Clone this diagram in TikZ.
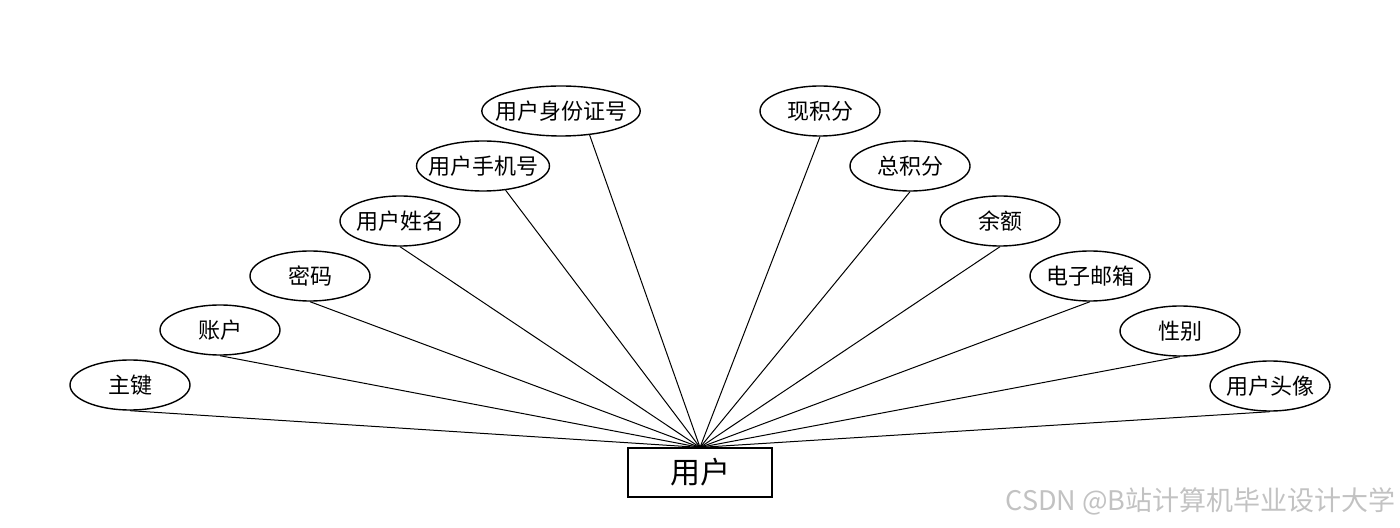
\documentclass[tikz,border=0pt]{standalone}
\usepackage{fontspec}
\setmainfont{Noto Sans CJK SC}
\usetikzlibrary{shapes.geometric}
\tikzset{
  attr/.style={ellipse,draw=black,line width=0.7pt,minimum width=60pt,minimum height=25pt,
    inner sep=0pt,inner xsep=-1.5pt,font=\fontsize{11pt}{13pt}\selectfont},
  ent/.style={rectangle,draw=black,line width=0.6pt,minimum width=72pt,minimum height=24.5pt,
    inner sep=0pt,font=\fontsize{15pt}{17pt}\selectfont},
  link/.style={line width=0.5pt},
  wmark/.style={text=black!24,inner sep=0pt,font=\fontsize{13.5pt}{15pt}\selectfont},
}

\begin{document}
\begin{tikzpicture}[x=0.5pt,y=-0.5pt]
  \useasboundingbox (0,0) rectangle (1400,528);
  % entity
  \node[ent] (user) at (700,472.5) {用户};
  % left attributes
  \node[attr] (pk) at (130,385) {主键};
  \node[attr] (acct) at (220,330) {账户};
  \node[attr] (pwd) at (310,276) {密码};
  \node[attr] (uname) at (400,221) {用户姓名};
  \node[attr,inner xsep=-4pt] (uphone) at (483,166) {用户手机号};
  \node[attr,inner xsep=-5pt] (uid) at (561,111) {用户身份证号};
  % right attributes
  \node[attr] (curpts) at (820,111) {现积分};
  \node[attr] (totpts) at (910,166) {总积分};
  \node[attr] (bal) at (1000,221) {余额};
  \node[attr] (email) at (1090,276) {电子邮箱};
  \node[attr] (sex) at (1180,331) {性别};
  \node[attr] (avatar) at (1270,386) {用户头像};
  % connectors
  \foreach \a in {pk,acct,pwd,uname,curpts,totpts,bal,email,sex,avatar}
    \draw[link] (\a.south) -- (user.north);
  \draw[link] (uphone.-47) -- (user.north);
  \draw[link] (uid.-40) -- (user.north);
  % watermark
  \node[wmark,anchor=east] (wm) at (1396,501) {CSDN @B站计算机毕业设计大学};
\end{tikzpicture}
\end{document}
